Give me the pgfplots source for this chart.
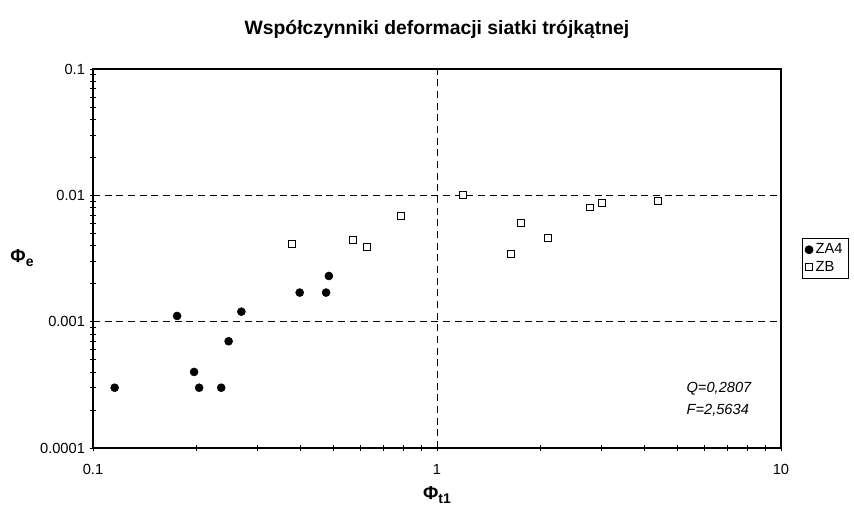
\documentclass[border=0pt]{standalone}
\usepackage{fontspec}
\setmainfont{Liberation Sans}
\usepackage{pgfplots}
\pgfplotsset{compat=1.18}
\begin{document}
\begin{tikzpicture}
\begin{axis}[
  at={(0,0)}, anchor=south west,
  xmode=log, ymode=log, clip=false,
  scale only axis, width=516pt, height=284.25pt,
  xmin=0.1, xmax=10, ymin=0.0001, ymax=0.1,
  xtick={0.1,1,10}, xticklabels={0.1,1,10},
  ytick={0.0001,0.001,0.01,0.1}, yticklabels={0.0001,0.001,0.01,0.1},
  tick pos=left,
  tick align=center, major tick length=5pt, minor tick length=4.5pt,
  every tick/.style={black, line width=0.6pt},
  axis line style={line width=0.9pt},
  grid=major, minor grid style={draw=none},
  major grid style={black, line width=0.6pt, dash pattern=on 5.25pt off 3.5pt},
  ticklabel style={font=\fontsize{11}{13}\selectfont},
  xticklabel style={yshift=-6pt},
  /pgf/number format/assume math mode=true,
  legend style={at={(1,0.5)}, anchor=west, xshift=15.75pt, draw=black, line width=0.6pt,
    font=\fontsize{11}{13}\selectfont, cells={anchor=west}, inner sep=2pt},
  title={\bfseries Współczynniki deformacji siatki trójkątnej},
  title style={at={(0.5,1)}, anchor=center, yshift=24pt, font=\fontsize{14.5}{17}\selectfont},
]
\addplot[only marks, mark=*, mark size=3pt, mark options={fill=black, draw=black}] coordinates {
  (0.1156,0.0003) (0.1756,0.00111) (0.1968,0.0004) (0.2035,0.0003) (0.2359,0.0003)
  (0.2479,0.0007) (0.270,0.0012) (0.399,0.0017) (0.476,0.0017) (0.485,0.0023)
};
\addlegendentry{ZA4}
\addplot[only marks, mark=square*, mark size=2.6pt, mark options={fill=white, draw=black, line width=0.6pt}] coordinates {
  (0.379,0.00413) (0.569,0.00442) (0.626,0.00392) (0.786,0.00685) (1.186,0.0101)
  (1.644,0.00342) (1.753,0.0061) (2.096,0.00464) (2.79,0.00803) (3.01,0.00864) (4.385,0.00896)
};
\addlegendentry{ZB}
\node[anchor=west, font=\fontsize{11}{13}\selectfont\itshape] at (axis cs:5.15,0.000292) {Q=0,2807};
\node[anchor=west, font=\fontsize{11}{13}\selectfont\itshape] at (axis cs:5.15,0.000200) {F=2,5634};
\node[font=\fontsize{14}{16}\selectfont\bfseries, yshift=-35pt] at (rel axis cs:0.5,0) {Φ\raisebox{-0.4ex}{\fontsize{10.5}{12}\selectfont t1}};
\node[font=\fontsize{14}{16}\selectfont\bfseries, xshift=-53.25pt] at (rel axis cs:0,0.5) {Φ\raisebox{-0.4ex}{\fontsize{10.5}{12}\selectfont e}};
\end{axis}
\pgfresetboundingbox
\path[use as bounding box] (-69.75pt,-45pt) rectangle (570.75pt,336pt);
\end{tikzpicture}
\end{document}
